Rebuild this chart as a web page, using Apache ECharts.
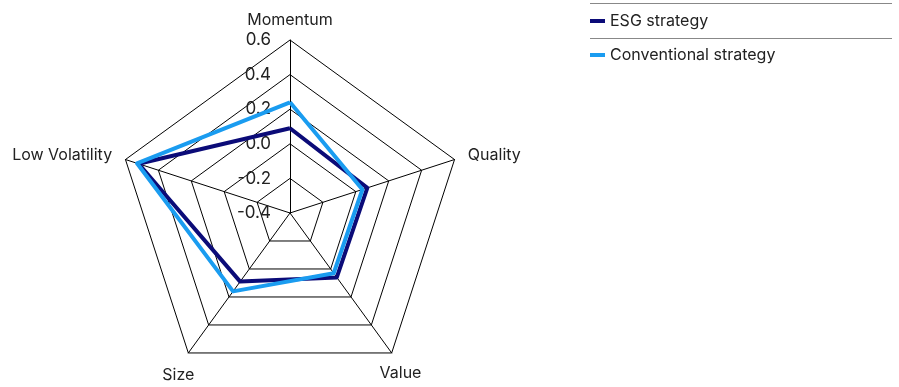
<!DOCTYPE html>
<html>
<head>
<meta charset="utf-8">
<script src="https://cdn.jsdelivr.net/npm/echarts@6/dist/echarts.min.js"></script>
<style>
  html, body { margin: 0; padding: 0; background: #fff; }
  #chart { width: 899px; height: 387px; }
</style>
</head>
<body>
<div id="chart"></div>
<script>
// factor exposures, clockwise from the top
const factors = ['Momentum', 'Low Volatility', 'Size', 'Value', 'Quality'];
const esgStrategy = [0.09, 0.52, 0.09, 0.06, 0.07];
const conventionalStrategy = [0.24, 0.53, 0.16, 0.03, 0.04];
const axisMin = -0.4;
const axisMax = 0.6;

const FONT = 'Inter, "Liberation Sans", sans-serif';

// name placement per axis (bottom names sit centred under the corner)
const nameGaps = [12, 14, 17, 15, 14];
const nameStyles = [{}, {}, { align: 'center', verticalAlign: 'top' }, { align: 'center', verticalAlign: 'top' }, {}];

const chart = echarts.init(document.getElementById('chart'));

const indicators = factors.map(function (name, i) {
  const ind = { name: name, min: axisMin, max: axisMax, nameGap: nameGaps[i], nameTextStyle: nameStyles[i] };
  if (i === 0) ind.axisLabel = { show: true };
  return ind;
});

chart.setOption({
  animation: false,
  legend: {
    orient: 'vertical',
    left: 590,
    top: 13,
    padding: 0,
    itemWidth: 15,
    itemHeight: 4,
    itemGap: 18,
    icon: 'rect',
    textStyle: { fontFamily: FONT, fontSize: 16, color: '#222' },
    data: ['ESG strategy', 'Conventional strategy']
  },
  graphic: [
    { type: 'line', shape: { x1: 590, y1: 3.5, x2: 892, y2: 3.5 }, style: { stroke: '#888', lineWidth: 1 } },
    { type: 'line', shape: { x1: 590, y1: 38.5, x2: 892, y2: 38.5 }, style: { stroke: '#888', lineWidth: 1 } }
  ],
  radar: {
    center: [290, 213],
    radius: 173,
    startAngle: 90,
    splitNumber: 5,
    shape: 'polygon',
    indicator: indicators,
    axisName: { color: '#222', fontFamily: FONT, fontSize: 16 },
    nameGap: 10,
    axisLine: { lineStyle: { color: '#000', width: 1 } },
    splitLine: { lineStyle: { color: '#000', width: 1 } },
    splitArea: { show: false },
    axisTick: { show: false },
    axisLabel: {
      show: false,
      color: '#222',
      fontFamily: FONT,
      fontSize: 17,
      margin: 19,
      formatter: function (v) { return v.toFixed(1); }
    }
  },
  series: [{
    type: 'radar',
    symbol: 'none',
    data: [
      { name: 'ESG strategy', value: esgStrategy, lineStyle: { color: '#0b0b78', width: 4 }, itemStyle: { color: '#0b0b78' } },
      { name: 'Conventional strategy', value: conventionalStrategy, lineStyle: { color: '#1a9cf0', width: 4 }, itemStyle: { color: '#1a9cf0' } }
    ],
    z: 3
  }]
});
</script>
</body>
</html>
